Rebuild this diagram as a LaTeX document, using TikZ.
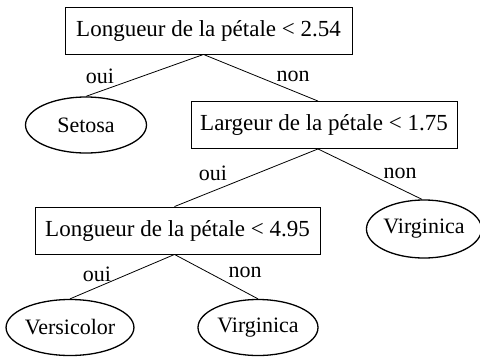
\documentclass[tikz,border=0pt]{standalone}
\usepackage{fontspec}
\setmainfont{Liberation Serif}
\usetikzlibrary{shapes.geometric}
\begin{document}
\begin{tikzpicture}[x=1pt,y=-1pt,
  box/.style={draw, line width=0.9pt, minimum height=47pt, inner sep=0pt, font=\fontsize{23}{26}\selectfont},
  leaf/.style={draw, ellipse, line width=1.3pt, inner sep=0pt, font=\fontsize{22}{25}\selectfont},
  lbl/.style={font=\fontsize{22}{25}\selectfont, inner sep=0pt},
  edge/.style={line width=0.8pt}]
\useasboundingbox (0,0) rectangle (480,357);
\node[box, minimum width=287pt] (b1) at (208.5,30.5) {Longueur de la pétale < 2.54};
\node[box, minimum width=266pt] (b2) at (324,125) {Largeur de la pétale < 1.75};
\node[box, minimum width=285pt] (b3) at (177.5,230.5) {Longueur de la pétale < 4.95};
\node[leaf, minimum width=121pt, minimum height=56pt] (setosa) at (86,125) {Setosa};
\node[leaf, minimum width=112pt, minimum height=58pt] (virg1) at (424,229) {Virginica};
\node[leaf, minimum width=120pt, minimum height=56pt] (versi) at (70,327.5) {Versicolor};
\node[leaf, minimum width=120pt, minimum height=56pt] (virg2) at (258,327.5) {Virginica};
\draw[edge] ([xshift=-5pt]b1.south) -- (setosa.north);
\draw[edge] ([xshift=-5pt]b1.south) -- ([xshift=-6pt]b2.north);
\draw[edge] ([xshift=-6pt]b2.south) -- ([xshift=-3pt]b3.north);
\draw[edge] ([xshift=-6pt]b2.south) -- ([xshift=-2pt]virg1.north);
\draw[edge] ([xshift=-3pt]b3.south) -- (versi.north);
\draw[edge] ([xshift=-3pt]b3.south) -- (virg2.north);
\node[lbl] (l1) at (100,76) {oui};
\node[lbl] (l2) at (293,76) {non};
\node[lbl] (l3) at (213,173) {oui};
\node[lbl] (l4) at (400,173) {non};
\node[lbl] (l5) at (97,274) {oui};
\node[lbl] (l6) at (245,272) {non};
\end{tikzpicture}
\end{document}
